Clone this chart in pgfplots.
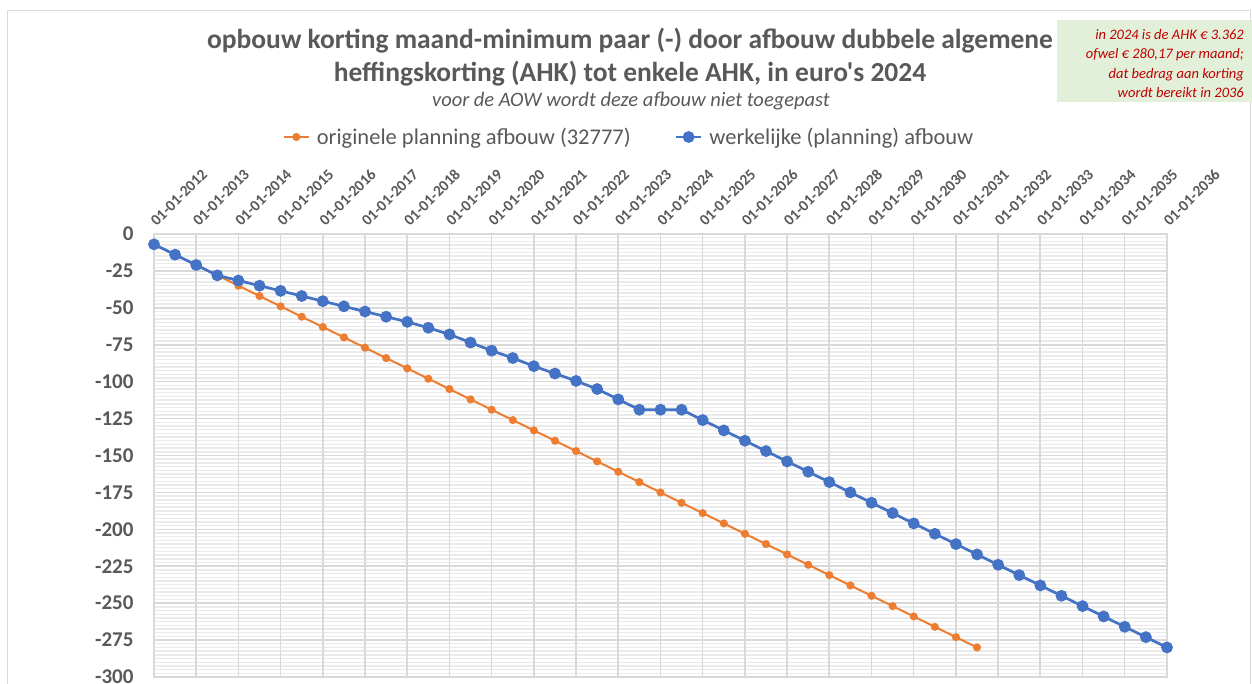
\documentclass[border=0pt]{standalone}
\usepackage{fontspec}
\setmainfont{Carlito}[Ligatures=TeXOff]
\usepackage{pgfplots}
\pgfplotsset{compat=1.18}
\definecolor{txt}{HTML}{595959}
\definecolor{gridc}{HTML}{D9D9D9}
\definecolor{minorc}{HTML}{EBEBEB}
\definecolor{oranje}{HTML}{ED7D31}
\definecolor{blauw}{HTML}{4472C4}
\definecolor{notebg}{HTML}{E2F0D9}
\definecolor{notered}{HTML}{C00000}
\pgfplotsset{base/.style={
  at={(154pt,-677pt)}, anchor=south west, scale only axis,
  width=1013pt, height=443pt,
  xmin=2012, xmax=2036, ymin=-300, ymax=0}}
\begin{document}
\begin{tikzpicture}[x=1pt,y=1pt]
\path[use as bounding box] (0,0) rectangle (1252,-684);
\draw[color=gridc, line width=1pt] (7,-11) rectangle (1250,-700);
\fill[notebg] (1057,-20) rectangle (1252,-102);
\node[anchor=north east, align=right, text=notered, inner sep=0pt,
  font=\fontsize{14.5}{19.5}\selectfont\itshape] at (1244,-29)
  {in 2024 is de AHK € 3.362\\ofwel € 280,17 per maand;\\dat bedrag aan korting\\wordt bereikt in 2036};
\node[font=\fontsize{27.5}{33}\selectfont\bfseries, text=txt, align=center] at (630,-57)
  {opbouw korting maand-minimum paar (-) door afbouw dubbele algemene\\heffingskorting (AHK) tot enkele AHK, in euro's 2024};
\node[font=\fontsize{20.5}{22}\selectfont\itshape, text=txt] at (631,-101)
  {voor de AOW wordt deze afbouw niet toegepast};
% minor horizontal grid first
\begin{axis}[base, axis line style={draw=none}, xtick=\empty,
  ytick={-297.5,-295,-292.5,-290,-287.5,-285,-282.5,-280,-277.5,-275,-272.5,-270,-267.5,-265,-262.5,-260,-257.5,-255,-252.5,-250,-247.5,-245,-242.5,-240,-237.5,-235,-232.5,-230,-227.5,-225,-222.5,-220,-217.5,-215,-212.5,-210,-207.5,-205,-202.5,-200,-197.5,-195,-192.5,-190,-187.5,-185,-182.5,-180,-177.5,-175,-172.5,-170,-167.5,-165,-162.5,-160,-157.5,-155,-152.5,-150,-147.5,-145,-142.5,-140,-137.5,-135,-132.5,-130,-127.5,-125,-122.5,-120,-117.5,-115,-112.5,-110,-107.5,-105,-102.5,-100,-97.5,-95,-92.5,-90,-87.5,-85,-82.5,-80,-77.5,-75,-72.5,-70,-67.5,-65,-62.5,-60,-57.5,-55,-52.5,-50,-47.5,-45,-42.5,-40,-37.5,-35,-32.5,-30,-27.5,-25,-22.5,-20,-17.5,-15,-12.5,-10,-7.5,-5,-2.5},
  yticklabels={}, ymajorgrids,
  major grid style={minorc, line width=1.4pt}, major tick length=0pt]
\end{axis}
\begin{axis}[base,
  xtick={2012,...,2036},
  xticklabels={01-01-2012,01-01-2013,01-01-2014,01-01-2015,01-01-2016,01-01-2017,01-01-2018,01-01-2019,01-01-2020,01-01-2021,01-01-2022,01-01-2023,01-01-2024,01-01-2025,01-01-2026,01-01-2027,01-01-2028,01-01-2029,01-01-2030,01-01-2031,01-01-2032,01-01-2033,01-01-2034,01-01-2035,01-01-2036},
  xticklabel pos=upper,
  ytick={-300,-275,...,0},
  grid=major,
  major grid style={gridc, line width=1.6pt},
  axis line style={gridc, line width=1.6pt},
  major tick length=0pt,
  x tick label style={xshift=3pt, yshift=7pt, rotate=45, anchor=south west, inner sep=0pt,
    font=\fontsize{15.5}{15.5}\selectfont\bfseries, text=txt},
  y tick label style={xshift=-17pt, font=\fontsize{21}{21}\selectfont\bfseries, text=txt},
  /pgf/number format/assume math mode=true,
  legend columns=2,
  legend style={at={(0.469,1)}, anchor=center, yshift=97pt, draw=none, fill=none,
    font=\fontsize{22.5}{22.5}\selectfont, text=txt,
    /tikz/every odd column/.append style={column sep=5pt},
    /tikz/every even column/.append style={column sep=42pt}},
  legend image code/.code={\draw[mark repeat=2,mark phase=2,#1] plot coordinates {(0pt,0pt) (12.5pt,0pt) (25pt,0pt)};},
]
\addplot[color=oranje, line width=2pt, mark=*, mark size=3pt, mark options={fill=oranje, draw=oranje}] coordinates {
(2012,-7) (2012.5,-14) (2013,-21) (2013.5,-28) (2014,-35) (2014.5,-42) (2015,-49) (2015.5,-56)
(2016,-63) (2016.5,-70) (2017,-77) (2017.5,-84) (2018,-91) (2018.5,-98) (2019,-105) (2019.5,-112)
(2020,-119) (2020.5,-126) (2021,-133) (2021.5,-140) (2022,-147) (2022.5,-154) (2023,-161) (2023.5,-168)
(2024,-175) (2024.5,-182) (2025,-189) (2025.5,-196) (2026,-203) (2026.5,-210) (2027,-217) (2027.5,-224)
(2028,-231) (2028.5,-238) (2029,-245) (2029.5,-252) (2030,-259) (2030.5,-266) (2031,-273) (2031.5,-280)
};
\addlegendentry{originele planning afbouw (32777)}
\addplot[color=blauw, line width=2.7pt, mark=*, mark size=4.5pt, mark options={fill=blauw, draw=blauw}] coordinates {
(2012,-7) (2012.5,-14) (2013,-21) (2013.5,-28) (2014,-31.5) (2014.5,-35) (2015,-38.5) (2015.5,-42)
(2016,-45.5) (2016.5,-49) (2017,-52.5) (2017.5,-56) (2018,-59.5) (2018.5,-63.5) (2019,-68) (2019.5,-73.5)
(2020,-79) (2020.5,-84) (2021,-89.5) (2021.5,-94.5) (2022,-99.5) (2022.5,-105) (2023,-112) (2023.5,-119)
(2024,-119) (2024.5,-119) (2025,-126) (2025.5,-133) (2026,-140) (2026.5,-147) (2027,-154) (2027.5,-161)
(2028,-168) (2028.5,-175) (2029,-182) (2029.5,-189) (2030,-196) (2030.5,-203) (2031,-210) (2031.5,-217)
(2032,-224) (2032.5,-231) (2033,-238) (2033.5,-245) (2034,-252) (2034.5,-259) (2035,-266) (2035.5,-273)
(2036,-280)
};
\addlegendentry{werkelijke (planning) afbouw}
\end{axis}
\end{tikzpicture}
\end{document}
